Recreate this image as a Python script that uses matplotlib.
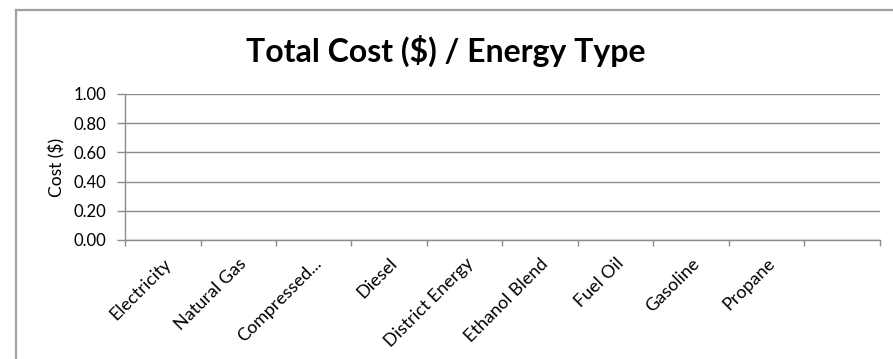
import matplotlib
matplotlib.use("Agg")
import matplotlib.pyplot as plt
from matplotlib.lines import Line2D
from matplotlib.ticker import FixedLocator, MultipleLocator

plt.rcParams['font.family'] = ['Lato', 'DejaVu Sans']

# Energy types (last slot has no label) and their total cost
categories = ["Electricity", "Natural Gas", "Compressed...", "Diesel",
              "District Energy", "Ethanol Blend", "Fuel Oil", "Gasoline",
              "Propane", ""]
costs = [0.0, 0.0, 0.0, 0.0, 0.0, 0.0, 0.0, 0.0, 0.0, 0.0]
y_ticks = [0.00, 0.20, 0.40, 0.60, 0.80, 1.00]

W, H = 893, 359
fig = plt.figure(figsize=(W / 100, H / 100), dpi=100)
fig.patch.set_facecolor("white")

# Chart area border (top and left edges)
border = "#a0a0a0"
fig.add_artist(Line2D([15.5 / W, 1.0], [1 - 10 / H, 1 - 10 / H],
                      transform=fig.transFigure, color=border, lw=1.6))
fig.add_artist(Line2D([15.5 / W, 15.5 / W], [0.0, 1 - 10 / H],
                      transform=fig.transFigure, color=border, lw=1.6))

ax = fig.add_axes([125 / W, 1 - 240 / H, (880 - 125) / W, (240 - 94) / H])

x = [i + 0.5 for i in range(len(categories))]
ax.bar(x, costs, width=0.6, color="#4f81bd")

ax.set_xlim(0, len(categories))
ax.set_ylim(y_ticks[0], y_ticks[-1])

grid_c = "#8c8c8c"
ax.set_yticks(y_ticks)
ax.set_yticklabels([f"{v:.2f}" for v in y_ticks], fontsize=12)
ax.yaxis.grid(True, color=grid_c, lw=1.0)
ax.set_axisbelow(True)

ax.xaxis.set_major_locator(FixedLocator(x))
ax.set_xticklabels(categories, rotation=45, ha="right", va="top",
                   rotation_mode="anchor", fontsize=13)
ax.xaxis.set_minor_locator(MultipleLocator(1))
ax.tick_params(axis="x", which="major", length=0, pad=11)
ax.tick_params(axis="x", which="minor", length=4, width=1.0, color=grid_c,
               direction="out")
ax.tick_params(axis="y", length=5.5, width=1.0, color=grid_c, pad=8)

for side in ("top", "right"):
    ax.spines[side].set_visible(False)
for side in ("left", "bottom"):
    ax.spines[side].set_color(grid_c)
    ax.spines[side].set_linewidth(1.0)

ax.set_ylabel("Cost ($)", fontsize=12.5, labelpad=6)

fig.text(446 / W, 1 - 51 / H, "Total Cost ($) / Energy Type", ha="center",
         va="center", fontsize=23, fontweight="bold")

fig.savefig("out.png", dpi=100)
